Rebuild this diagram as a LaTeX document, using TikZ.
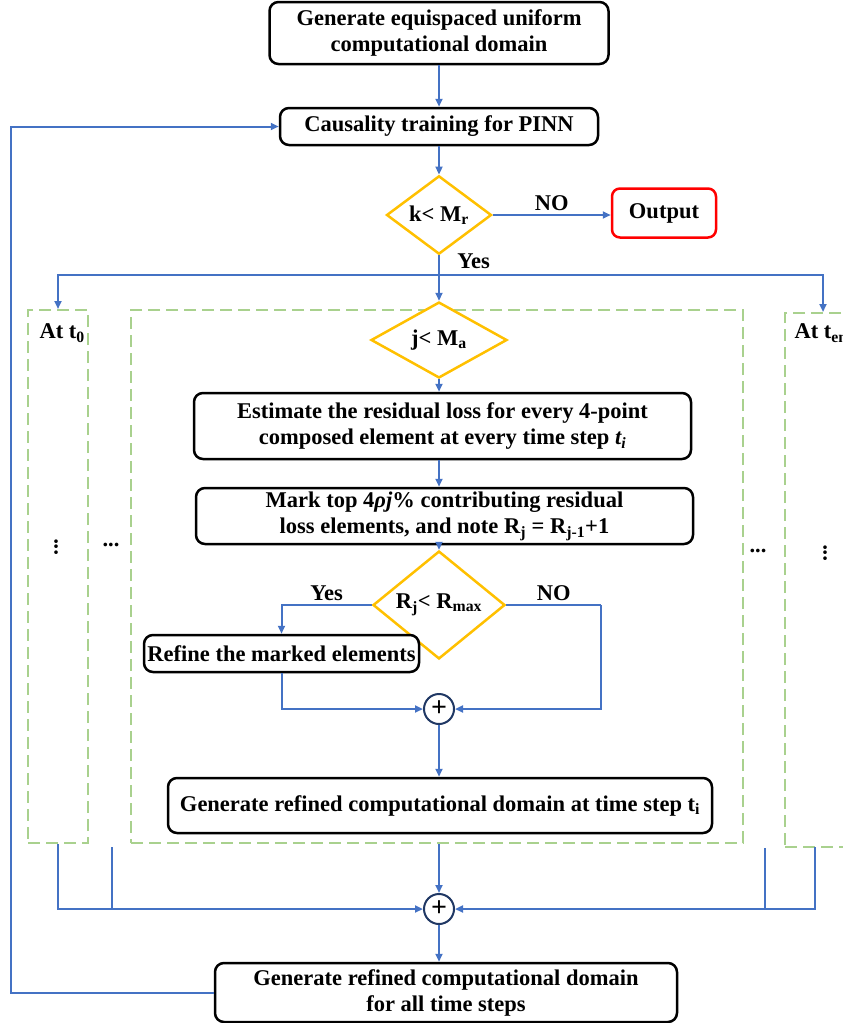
\documentclass[tikz,border=0pt]{standalone}
\usepackage{fontspec}
\setmainfont{Liberation Serif}
\usetikzlibrary{shapes.geometric,arrows.meta}
\definecolor{lineblue}{HTML}{4472C4}
\definecolor{dashgreen}{HTML}{A9D18E}
\definecolor{gold}{HTML}{FFC000}
\definecolor{navy}{HTML}{203864}

\begin{document}
\begin{tikzpicture}[x=1pt,y=-1pt,
    font=\fontsize{22.5}{26}\selectfont\bfseries,
    procbox/.style={draw=black,line width=2.5pt,rounded corners=9pt,align=center,inner sep=0pt,fill=white},
    decide/.style={diamond,draw=gold,line width=2.5pt,inner sep=0pt,fill=white},
    group/.style={draw=dashgreen,line width=2pt,dash pattern=on 12pt off 6pt},
    plus/.style={circle,draw=navy,line width=2pt,fill=white,minimum size=30pt,inner sep=0pt,font=\fontsize{28}{28}\selectfont\bfseries},
    flow/.style={draw=lineblue,line width=2pt,-{Triangle[length=8pt,width=7pt]}},
    wire/.style={draw=lineblue,line width=2pt}]

    \clip (0,0) rectangle (843,1023);

    % Dashed groups for the time steps
    \node[group,minimum width=60pt,minimum height=533pt] (gl) at (58,576.5) {};
    \node[group,minimum width=612pt,minimum height=533pt] (gm) at (437,576.5) {};
    \node[group,minimum width=76pt,minimum height=534pt] (gr) at (823,580) {};
    \node[anchor=west] at (36,333) {At t\textsubscript{0}};
    \node[anchor=west] at (791,333) {At t\textsubscript{end}};

    % Main column
    \node[procbox,minimum width=339pt,minimum height=62pt] (gen) at (439,33) {Generate equispaced uniform\\computational domain};
    \node[procbox,minimum width=318pt,minimum height=37pt] (cause) at (439,126.5) {Causality training for PINN};
    \node[decide,minimum width=105pt,minimum height=70pt] (dk) at (439,215) {k< M\textsubscript{r}};
    \node[procbox,draw=red,rounded corners=8pt,minimum width=104pt,minimum height=49pt] (out) at (664,213) {Output};

    % Inner loop at time step t_i
    \node[decide,minimum width=136pt,minimum height=57pt] (dj) at (439,340) {j< M\textsubscript{a}};
    \node[procbox,minimum width=497pt,minimum height=66pt] (est) at (442.5,426) {Estimate the residual loss for every 4-point\\composed element at every time step \textit{t\textsubscript{i}}};
    \node[procbox,minimum width=497pt,minimum height=56pt] (mark) at (444.5,516) {Mark top 4\textit{ρj}\% contributing residual\\loss elements, and note R\textsubscript{j} = R\textsubscript{j-1}+1};
    \node[decide,minimum width=132pt,minimum height=76pt] (dr) at (439,605) {R\textsubscript{j}< R\textsubscript{max}};
    \node[procbox,minimum width=275pt,minimum height=37pt] (refine) at (281.5,653.5) {Refine the marked elements};
    \node[plus] (p1) at (439,709) {+};
    \node[procbox,minimum width=544pt,minimum height=55pt] (domt) at (440,805.5) {Generate refined computational domain at time step t\textsubscript{i}};

    % Collecting all time steps
    \node[plus] (p2) at (439,909) {+};
    \node[procbox,minimum width=462pt,minimum height=59pt] (domall) at (446,992.5) {Generate refined computational domain\\for all time steps};

    % Dots between the groups
    \node[rotate=90] at (56,547) {...};
    \node at (111,545) {...};
    \node at (758,551) {...};
    \node[rotate=90] at (825,553) {...};

    % Helper points
    \coordinate (bus) at (439,275);
    \coordinate (nocorner) at (601,605);
    \coordinate (lj) at (112,847);
    \coordinate (rj) at (765,848);
    \coordinate (rj2) at (815,847);
    \coordinate (loopx) at (11,500);

    % Connectors
    \draw[flow] (gen) -- (cause);
    \draw[flow] (cause) -- (dk);
    \draw[flow] (dk.east) -- (dk.east -| out.west) node[midway,above] {NO};
    \draw[flow] (dk) -- (dj) node[pos=0.12,right,xshift=14pt] {Yes};
    \draw[flow,{Triangle[length=8pt,width=7pt]}-{Triangle[length=8pt,width=7pt]}] (gl.north) |- (bus) -| (gr.north);
    \draw[flow] (dj) -- (dj |- est.north);
    \draw[flow] (dj |- est.south) -- (dj |- mark.north);
    \draw[flow] (dr |- mark.south) -- (dr);
    \draw[flow] (dr.west) -| (refine.north) node[pos=0.25,above] {Yes};
    \draw[wire] (dr.east) -- (nocorner) node[midway,above] {NO};
    \draw[flow] (nocorner) |- (p1);
    \draw[flow] (refine) |- (p1);
    \draw[flow] (p1) -- (p1 |- domt.north);
    \draw[flow] (gl.south) |- (p2);
    \draw[wire] (lj) -- (lj |- p2);
    \draw[flow] (p2 |- gm.south) -- (p2);
    \draw[flow] (rj2) |- (p2);
    \draw[wire] (rj) -- (rj |- p2);
    \draw[flow] (p2) -- (p2 |- domall.north);
    \draw[flow] (domall.west) -| (loopx) |- (cause.west); % back to training

\end{tikzpicture}
\end{document}
